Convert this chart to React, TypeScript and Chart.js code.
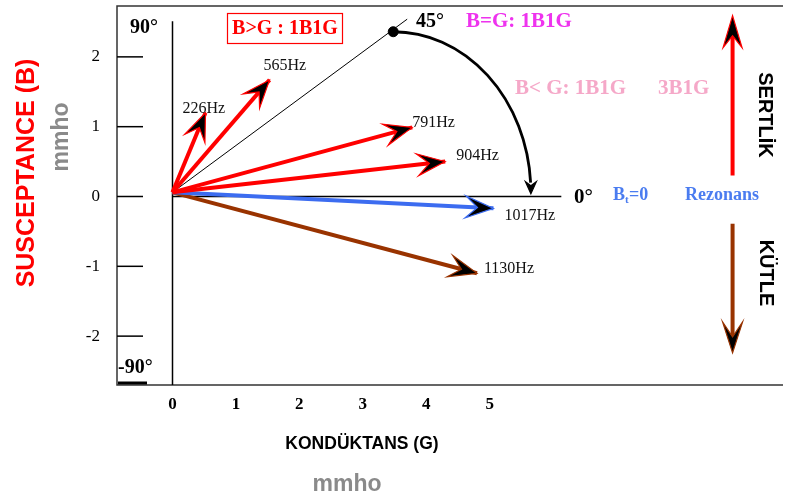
import React, { useEffect, useRef } from 'react';
import { Chart, registerables } from 'chart.js';

Chart.register(...registerables);

// ---- data ----
const freqLabels = ['226Hz', '565Hz', '791Hz', '904Hz', '1017Hz', '1130Hz'];
const conductance = [0.52, 1.53, 3.78, 4.3, 5.06, 4.8]; // G (mmho)
const susceptance = [1.2, 1.67, 0.99, 0.5, -0.17, -1.1]; // B (mmho)
const vectorColors = ['#ff0000', '#ff0000', '#ff0000', '#ff0000', '#3c6cf0', '#993300'];
const originPoint = { G: 0, B: 0.06 };
const xTicks = [0, 1, 2, 3, 4, 5];
const yTicks = [-2, -1, 0, 1, 2];
const line45End = { G: 3.7, B: 2.54 };
const dot45 = { G: 3.48, B: 2.36 };
const arcCenter = { G: 3.48, B: 0.06 };
const arcRadius = { G: 2.17, B: 2.3 };
const arcTip = { G: 5.65, B: 0.04 };
const sideArrowG = 8.83;
const stiffArrow = { from: 0.3, to: 2.59 };
const massArrow = { from: -0.39, to: -2.24 };
const gAxisTopB = 2.51;
const zeroLineEndG = 6.13;

// label pixel offsets from each vector tip (layout only)
const labelOffsets: [number, number][] = [
  [-23, 0], [-6, -10], [0, 0], [11, -2], [11, 12], [7, 0],
];

const SERIF = '"Liberation Serif", "Times New Roman", serif';
const SANS = '"Liberation Sans", Arial, sans-serif';

function drawHead(
  ctx: CanvasRenderingContext2D,
  tx: number, ty: number, dx: number, dy: number,
  len: number, width: number, notch: number,
  fill: string, stroke: string,
) {
  const l = Math.hypot(dx, dy) || 1;
  const ux = dx / l, uy = dy / l;
  const nx = -uy, ny = ux;
  ctx.beginPath();
  ctx.moveTo(tx, ty);
  ctx.lineTo(tx - ux * len + nx * width / 2, ty - uy * len + ny * width / 2);
  ctx.lineTo(tx - ux * notch, ty - uy * notch);
  ctx.lineTo(tx - ux * len - nx * width / 2, ty - uy * len - ny * width / 2);
  ctx.closePath();
  ctx.fillStyle = fill;
  ctx.fill();
  ctx.lineWidth = 1.2;
  ctx.strokeStyle = stroke;
  ctx.stroke();
}

function text(
  ctx: CanvasRenderingContext2D, s: string, x: number, y: number,
  font: string, color: string, align: CanvasTextAlign = 'left',
  baseline: CanvasTextBaseline = 'alphabetic',
) {
  ctx.font = font;
  ctx.fillStyle = color;
  ctx.textAlign = align;
  ctx.textBaseline = baseline;
  ctx.fillText(s, x, y);
}

function rotText(
  ctx: CanvasRenderingContext2D, s: string, cx: number, cy: number,
  angle: number, font: string, color: string,
) {
  ctx.save();
  ctx.translate(cx, cy);
  ctx.rotate(angle);
  text(ctx, s, 0, 0, font, color, 'center', 'middle');
  ctx.restore();
}

const overlay = {
  id: 'overlay',
  beforeDatasetsDraw(chart: any) {
    const { ctx, chartArea: a, scales } = chart;
    const X = (v: number) => scales.x.getPixelForValue(v);
    const Y = (v: number) => scales.y.getPixelForValue(v);
    ctx.save();
    ctx.lineCap = 'butt';
    // frame
    ctx.strokeStyle = '#333';
    ctx.lineWidth = 1.5;
    ctx.beginPath();
    ctx.moveTo(a.right, a.top);
    ctx.lineTo(a.left, a.top);
    ctx.lineTo(a.left, a.bottom);
    ctx.lineTo(a.right, a.bottom);
    ctx.stroke();
    // y tick marks
    ctx.strokeStyle = '#000';
    ctx.lineWidth = 1.5;
    yTicks.forEach((v) => {
      const py = Y(v);
      ctx.beginPath();
      ctx.moveTo(a.left, py);
      ctx.lineTo(a.left + 26, py);
      ctx.stroke();
    });
    // short thick mark bottom-left
    ctx.lineWidth = 3;
    ctx.beginPath();
    ctx.moveTo(a.left + 1, a.bottom - 2);
    ctx.lineTo(a.left + 30, a.bottom - 2);
    ctx.stroke();
    // G axis (vertical) and zero line
    ctx.lineWidth = 1.5;
    ctx.beginPath();
    ctx.moveTo(X(0), Y(gAxisTopB));
    ctx.lineTo(X(0), a.bottom);
    ctx.moveTo(X(0), Y(0));
    ctx.lineTo(X(zeroLineEndG), Y(0));
    ctx.stroke();
    ctx.restore();
  },
  afterDatasetsDraw(chart: any) {
    const { ctx, scales } = chart;
    const X = (v: number) => scales.x.getPixelForValue(v);
    const Y = (v: number) => scales.y.getPixelForValue(v);
    ctx.save();
    const ox = X(originPoint.G), oy = Y(originPoint.B);
    // vector arrow heads and labels
    conductance.forEach((g, i) => {
      const tx = X(g), ty = Y(susceptance[i]);
      drawHead(ctx, tx, ty, tx - ox, ty - oy, 28, 22, 16, '#000', vectorColors[i]);
      const [dx, dy] = labelOffsets[i];
      text(ctx, freqLabels[i], tx + dx, ty + dy, `16px ${SERIF}`, '#111');
    });
    // arc from 45 deg to 0 deg
    const cx = X(arcCenter.G), cy = Y(arcCenter.B);
    const rx = X(arcCenter.G + arcRadius.G) - cx;
    const ry = cy - Y(arcCenter.B + arcRadius.B);
    ctx.strokeStyle = '#000';
    ctx.lineWidth = 2.8;
    ctx.beginPath();
    ctx.ellipse(cx, cy, rx, ry, 0, -Math.PI / 2, -0.06);
    ctx.stroke();
    drawHead(ctx, X(arcTip.G), Y(arcTip.B), 0, 1, 12, 11, 8, '#000', '#000');
    // side arrows
    const sx = X(sideArrowG);
    ctx.lineWidth = 4;
    ctx.strokeStyle = '#ff0000';
    ctx.beginPath();
    ctx.moveTo(sx, Y(stiffArrow.from));
    ctx.lineTo(sx, Y(stiffArrow.to) + 10);
    ctx.stroke();
    drawHead(ctx, sx, Y(stiffArrow.to), 0, -1, 32, 19, 20, '#000', '#ff0000');
    ctx.lineWidth = 4;
    ctx.strokeStyle = '#993300';
    ctx.beginPath();
    ctx.moveTo(sx, Y(massArrow.from));
    ctx.lineTo(sx, Y(massArrow.to) - 10);
    ctx.stroke();
    drawHead(ctx, sx, Y(massArrow.to), 0, 1, 31, 20, 16, '#000', '#993300');

    // annotations
    text(ctx, '90°', 130, 33, `bold 20px ${SERIF}`, '#000');
    text(ctx, '-90°', 118, 373, `bold 20px ${SERIF}`, '#000');
    ctx.strokeStyle = '#ff0000';
    ctx.lineWidth = 1.2;
    ctx.strokeRect(227.5, 13.5, 115, 30);
    text(ctx, 'B>G : 1B1G', 285, 34, `bold 20px ${SERIF}`, '#ff0000', 'center');
    text(ctx, '45°', 416, 27, `bold 20px ${SERIF}`, '#000');
    text(ctx, 'B=G: 1B1G', 466, 27, `bold 21px ${SERIF}`, '#ee33ee');
    text(ctx, 'B< G: 1B1G', 515, 94, `bold 21px ${SERIF}`, '#f5a8c8');
    text(ctx, '3B1G', 658, 94, `bold 21px ${SERIF}`, '#f5a8c8');
    text(ctx, '0°', 574, 203, `bold 21px ${SERIF}`, '#000');
    const blue = '#4a7cf0';
    text(ctx, 'B', 613, 200, `bold 18px ${SERIF}`, blue);
    text(ctx, 't', 625, 203, `bold 11px ${SERIF}`, blue);
    text(ctx, '=0', 629, 200, `bold 18px ${SERIF}`, blue);
    text(ctx, 'Rezonans', 685, 200, `bold 18px ${SERIF}`, blue);
    rotText(ctx, 'SERTLİK', 765, 115, Math.PI / 2, `bold 20px ${SANS}`, '#000');
    rotText(ctx, 'KÜTLE', 766, 273, Math.PI / 2, `bold 20px ${SANS}`, '#000');
    // axis titles
    text(ctx, 'KONDÜKTANS (G)', 362, 444, `bold 17.5px ${SANS}`, '#000', 'center', 'middle');
    text(ctx, 'mmho', 347, 485, `bold 23px ${SANS}`, '#8a8a8a', 'center', 'middle');
    rotText(ctx, 'SUSCEPTANCE (B)', 27, 173, -Math.PI / 2, `bold 25px ${SANS}`, '#ff0000');
    rotText(ctx, 'mmho', 62, 137, -Math.PI / 2, `bold 23px ${SANS}`, '#8a8a8a');
    ctx.restore();
  },
};

export default function App() {
  const ref = useRef<HTMLCanvasElement | null>(null);
  useEffect(() => {
    if (!ref.current) return;
    const vectorSets = conductance.map((g, i) => ({
      label: freqLabels[i],
      data: [{ x: originPoint.G, y: originPoint.B }, { x: g, y: susceptance[i] }],
      showLine: true,
      borderColor: vectorColors[i],
      borderWidth: 4,
      pointRadius: 0,
      order: 2,
    }));
    const chart = new Chart(ref.current, {
      type: 'scatter',
      data: {
        datasets: [
          {
            label: '45',
            data: [{ x: originPoint.G, y: originPoint.B }, { x: line45End.G, y: line45End.B }],
            showLine: true,
            borderColor: '#000',
            borderWidth: 1,
            pointRadius: 0,
            order: 3,
          },
          ...vectorSets,
          {
            label: 'dot',
            data: [{ x: dot45.G, y: dot45.B }],
            pointRadius: 5,
            pointBackgroundColor: '#000',
            pointBorderColor: '#000',
            order: 1,
          },
        ] as any,
      },
      options: {
        responsive: false,
        animation: false,
        devicePixelRatio: 1,
        layout: { padding: { top: 5, left: 0, right: 0, bottom: 0 } },
        plugins: { legend: { display: false }, tooltip: { enabled: false } },
        scales: {
          x: {
            type: 'linear',
            min: -0.875,
            max: 9.625,
            grid: { display: false },
            border: { display: false },
            afterBuildTicks: (s: any) => { s.ticks = xTicks.map((v) => ({ value: v })); },
            afterFit: (s: any) => { s.height = 116; s.paddingLeft = 0; s.paddingRight = 0; },
            ticks: {
              font: { family: SERIF, size: 17, weight: 'bold' },
              color: '#000',
              padding: 1,
              autoSkip: false,
              maxRotation: 0,
            },
          },
          y: {
            type: 'linear',
            min: -2.7,
            max: 2.7286,
            grid: { display: false },
            border: { display: false },
            afterBuildTicks: (s: any) => { s.ticks = yTicks.map((v) => ({ value: v })); },
            afterFit: (s: any) => { s.width = 117; s.paddingTop = 0; s.paddingBottom = 0; },
            ticks: {
              font: { family: SERIF, size: 17 },
              color: '#000',
              padding: 9,
            },
          },
        },
      } as any,
      plugins: [overlay],
    });
    return () => chart.destroy();
  }, []);
  return (
    <div style={{ position: 'absolute', left: 0, top: 0, width: 789, height: 501, background: '#fff' }}>
      <canvas ref={ref} width={789} height={501} style={{ display: 'block' }} />
    </div>
  );
}
